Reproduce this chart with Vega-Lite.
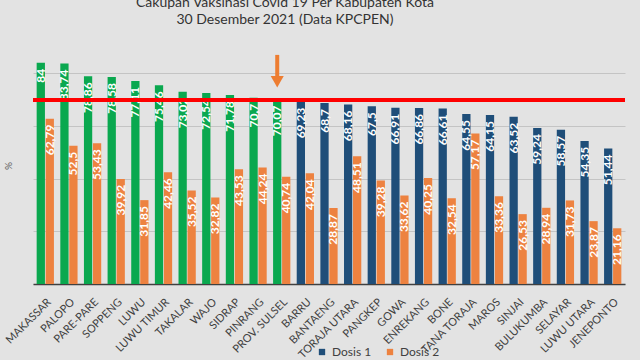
{
  "$schema": "https://vega.github.io/schema/vega-lite/v6.json",
  "width": 592,
  "height": 237,
  "autosize": {"type": "none"},
  "padding": {"left": 33, "top": 47, "right": 15, "bottom": 76},
  "background": "#E3E3E3",
  "config": {
    "view": {"stroke": null},
    "font": "Lato",
    "locale": {"number": {"decimal": ",", "thousands": ".", "grouping": [3], "currency": ["", ""]}}
  },
  "title": {
    "text": ["Cakupan Vaksinasi Covid 19 Per Kabupaten Kota", "30 Desember 2021 (Data KPCPEN)"],
    "fontSize": 14,
    "fontWeight": "normal",
    "color": "#333333",
    "lineHeight": 17,
    "offset": 20,
    "dx": -44,
    "anchor": "middle"
  },
  "data": {
    "values": [
      {"kab": "MAKASSAR", "Dosis 1": 84, "Dosis 2": 62.79},
      {"kab": "PALOPO", "Dosis 1": 83.74, "Dosis 2": 52.5},
      {"kab": "PARE-PARE", "Dosis 1": 78.86, "Dosis 2": 53.43},
      {"kab": "SOPPENG", "Dosis 1": 78.58, "Dosis 2": 39.92},
      {"kab": "LUWU", "Dosis 1": 77.11, "Dosis 2": 31.85},
      {"kab": "LUWU TIMUR", "Dosis 1": 75.46, "Dosis 2": 42.46},
      {"kab": "TAKALAR", "Dosis 1": 73.02, "Dosis 2": 35.52},
      {"kab": "WAJO", "Dosis 1": 72.54, "Dosis 2": 32.82},
      {"kab": "SIDRAP", "Dosis 1": 71.78, "Dosis 2": 43.53},
      {"kab": "PINRANG", "Dosis 1": 70.7, "Dosis 2": 44.24},
      {"kab": "PROV. SULSEL", "Dosis 1": 70.07, "Dosis 2": 40.74},
      {"kab": "BARRU", "Dosis 1": 69.23, "Dosis 2": 42.04},
      {"kab": "BANTAENG", "Dosis 1": 68.7, "Dosis 2": 28.87},
      {"kab": "TORAJA UTARA", "Dosis 1": 68.16, "Dosis 2": 48.51},
      {"kab": "PANGKEP", "Dosis 1": 67.5, "Dosis 2": 39.28},
      {"kab": "GOWA", "Dosis 1": 66.91, "Dosis 2": 33.62},
      {"kab": "ENREKANG", "Dosis 1": 66.86, "Dosis 2": 40.25},
      {"kab": "BONE", "Dosis 1": 66.61, "Dosis 2": 32.54},
      {"kab": "TANA TORAJA", "Dosis 1": 64.55, "Dosis 2": 57.17},
      {"kab": "MAROS", "Dosis 1": 64.15, "Dosis 2": 33.36},
      {"kab": "SINJAI", "Dosis 1": 63.52, "Dosis 2": 26.53},
      {"kab": "BULUKUMBA", "Dosis 1": 59.24, "Dosis 2": 28.94},
      {"kab": "SELAYAR", "Dosis 1": 58.57, "Dosis 2": 31.73},
      {"kab": "LUWU UTARA", "Dosis 1": 54.35, "Dosis 2": 23.87},
      {"kab": "JENEPONTO", "Dosis 1": 51.44, "Dosis 2": 21.16}
    ]
  },
  "transform": [{"fold": ["Dosis 1", "Dosis 2"], "as": ["dosis", "nilai"]}],
  "layer": [
    {
      "mark": {"type": "bar"},
      "encoding": {
        "x": {
          "field": "kab", "type": "nominal", "sort": null,
          "scale": {"paddingInner": 0.27, "paddingOuter": 0.155},
          "axis": {"title": null, "labelAngle": -45, "labelAlign": "right", "labelBaseline": "top", "labelFontSize": 11, "labelColor": "#404040", "ticks": false, "domainColor": "#404040", "domainWidth": 1.5, "labelPadding": 12}
        },
        "xOffset": {"field": "dosis", "type": "nominal", "scale": {"paddingInner": 0.08}},
        "y": {
          "field": "nilai", "type": "quantitative",
          "scale": {"domain": [0, 90], "nice": false},
          "axis": {"title": "%", "labels": false, "ticks": false, "domain": false, "values": [0, 10, 20, 30, 40, 50, 60, 70, 80, 90], "gridColor": "#C4C4C4", "titlePadding": 20, "titleFontSize": 10, "titleColor": "#595959", "titleFontWeight": "normal"}
        },
        "color": {
          "condition": {"test": "datum.dosis === 'Dosis 1' && datum.nilai >= 70", "value": "#0AA84F"},
          "field": "dosis", "type": "nominal",
          "scale": {"domain": ["Dosis 1", "Dosis 2"], "range": ["#1F4E79", "#ED8240"]},
          "legend": {"orient": "none", "legendX": 283, "legendY": 299, "direction": "horizontal", "title": null, "symbolType": "square", "symbolSize": 40, "labelFontSize": 12, "labelColor": "#404040", "columnPadding": 12, "labelOffset": 4}
        }
      }
    },
    {
      "mark": {"type": "text", "angle": -90, "align": "right", "baseline": "middle", "dx": -6, "color": "white", "fontSize": 12, "fontWeight": "bold"},
      "encoding": {
        "x": {"field": "kab", "type": "nominal", "sort": null},
        "xOffset": {"field": "dosis", "type": "nominal"},
        "y": {"field": "nilai", "type": "quantitative"},
        "text": {"field": "nilai", "type": "quantitative", "format": "~r"}
      }
    },
    {
      "mark": {"type": "rule", "color": "#FF0000", "strokeWidth": 3},
      "encoding": {"y": {"datum": 70}}
    },
    {
      "transform": [{"filter": "datum.kab === 'PROV. SULSEL' && datum.dosis === 'Dosis 1'"}],
      "mark": {"type": "rule", "color": "#ED7D31", "strokeWidth": 4},
      "encoding": {
        "x": {"field": "kab", "type": "nominal", "sort": null},
        "xOffset": {"field": "dosis", "type": "nominal"},
        "y": {"datum": 87},
        "y2": {"datum": 78}
      }
    },
    {
      "transform": [{"filter": "datum.kab === 'PROV. SULSEL' && datum.dosis === 'Dosis 1'"}],
      "mark": {"type": "point", "shape": "triangle-down", "filled": true, "color": "#ED7D31", "size": 170, "opacity": 1},
      "encoding": {
        "x": {"field": "kab", "type": "nominal", "sort": null},
        "xOffset": {"field": "dosis", "type": "nominal"},
        "y": {"datum": 76.8}
      }
    }
  ]
}
